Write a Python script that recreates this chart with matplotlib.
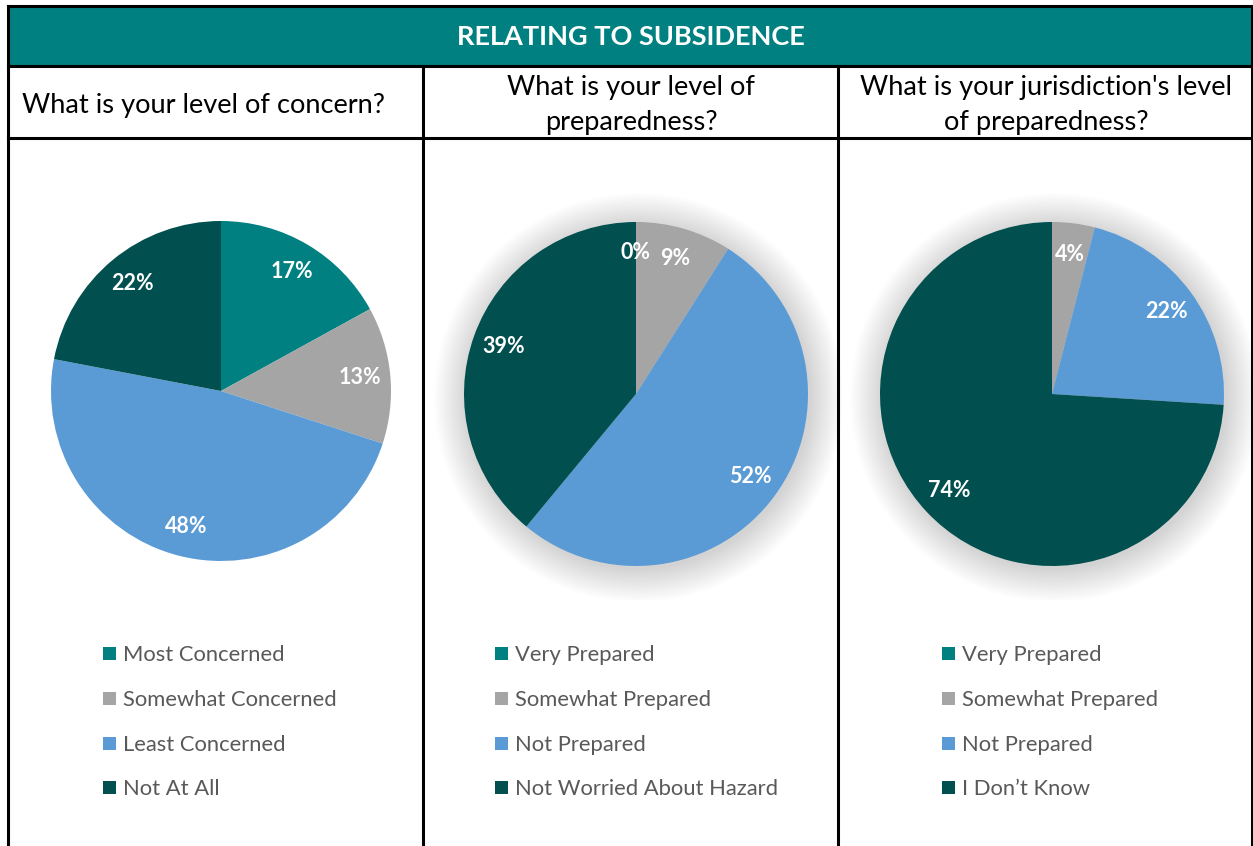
import numpy as np
import matplotlib.pyplot as plt
from matplotlib.patches import Rectangle, Circle

W, H = 1253, 846
plt.rcParams['font.family'] = ['Lato', 'DejaVu Sans']

header = 'RELATING TO SUBSIDENCE'
questions = ['What is your level of concern?',
             'What is your level of\npreparedness?',
             "What is your jurisdiction's level\nof preparedness?"]
labels1 = ['Most Concerned', 'Somewhat Concerned', 'Least Concerned', 'Not At All']
labels2 = ['Very Prepared', 'Somewhat Prepared', 'Not Prepared', 'Not Worried About Hazard']
labels3 = ['Very Prepared', 'Somewhat Prepared', 'Not Prepared', 'I Don\u2019t Know']
values1 = [17, 13, 48, 22]
values2 = [0, 9, 52, 39]
values3 = [0, 4, 22, 74]
colors = ['#008080', '#A5A5A5', '#5B9BD5', '#024F4F']

fig = plt.figure(figsize=(W / 100, H / 100), dpi=100)
ax = fig.add_axes([0, 0, 1, 1])
ax.set_xlim(0, W)
ax.set_ylim(H, 0)
ax.axis('off')

# table frame
ax.add_patch(Rectangle((8, 6), W - 8, 60, facecolor='#008080', edgecolor='none'))
ax.text(631, 37, header, color='white', fontsize=19.5, fontweight='bold', ha='center', va='center')
for y in [6, 66, 138]:
    ax.plot([8, W], [y, y], color='black', lw=2.2)
for x in [8, 423, 838]:
    ax.plot([x, x], [6 if x == 8 else 66, H], color='black', lw=2.2)
ax.plot([W - 1, W - 1], [6, H], color='black', lw=2.2)

q_x = [203, 631, 1046]
for x, q in zip(q_x, questions):
    ax.text(x, 105, q, fontsize=19.6, ha='center', va='center', color='black', linespacing=1.5)


def draw_pie(cx, cy, r, vals, shadow, hide_zero):
    pa = fig.add_axes([(cx - 1.2 * r) / W, 1 - (cy + 1.2 * r) / H, 2.4 * r / W, 2.4 * r / H])
    if shadow:
        for k in range(22):
            pa.add_patch(Circle((0.015, -0.02), 1 + 0.009 * k, color='black', alpha=0.007, lw=0, zorder=0))
    wedges, texts, autotexts = pa.pie(vals, colors=colors, startangle=90, counterclock=False,
                                      autopct='%d%%', pctdistance=0.82,
                                      textprops=dict(color='white', fontsize=15.5, fontweight='bold'))
    for v, t in zip(vals, autotexts):
        t.set_text('%d%%' % v)
        if v == 0 and hide_zero:
            t.set_text('')
    pa.set_xlim(-1.2, 1.2)
    pa.set_ylim(-1.2, 1.2)
    pa.set_aspect('equal')
    pa.axis('off')


draw_pie(221, 391, 170, values1, False, False)
draw_pie(636, 394, 172, values2, True, False)
draw_pie(1052, 394, 172, values3, True, True)

leg_x = [103, 495, 942]
leg_y = [654, 699, 744, 788]
for x0, labs in zip(leg_x, [labels1, labels2, labels3]):
    for y0, lab, c in zip(leg_y, labs, colors):
        ax.add_patch(Rectangle((x0, y0 - 6.5), 13, 13, facecolor=c, edgecolor='none'))
        ax.text(x0 + 20, y0 + 1, lab, fontsize=15.8, color='#595959', ha='left', va='center')

fig.savefig('out.png', dpi=100)
